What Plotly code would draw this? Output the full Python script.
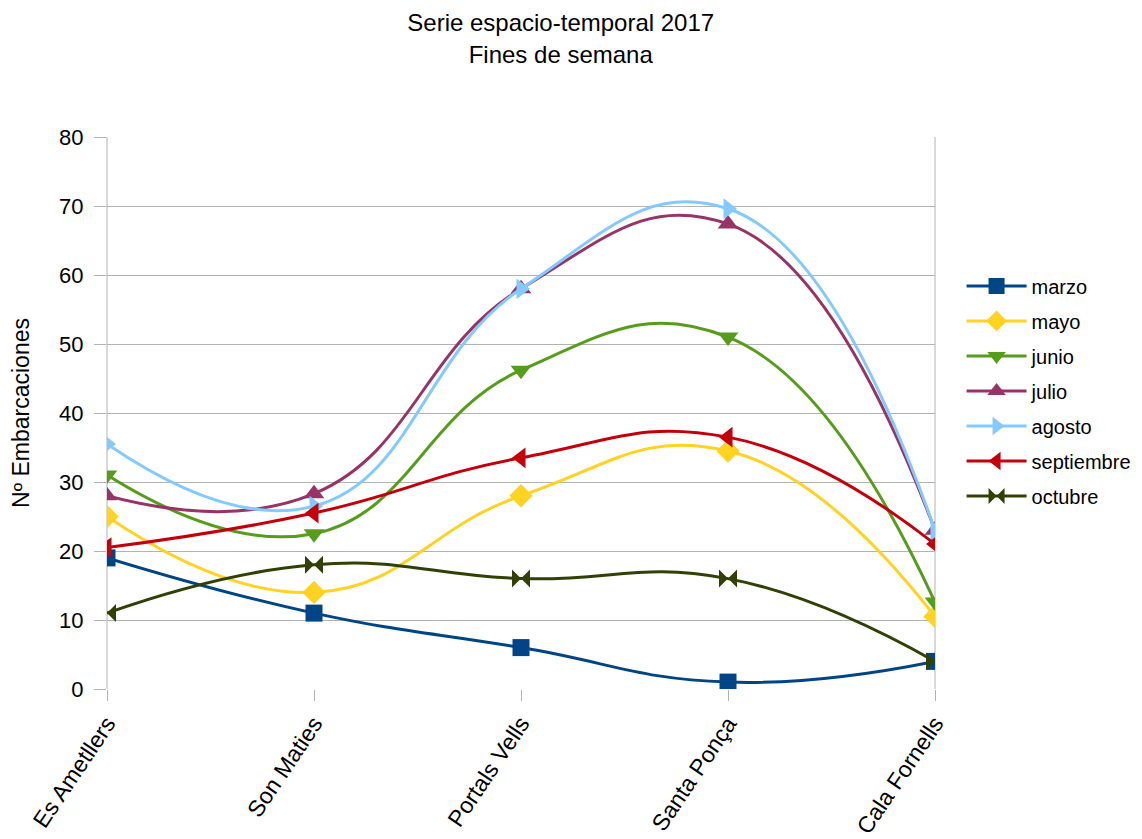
import plotly.graph_objects as go

categories = ["Es Ametllers", "Son Maties", "Portals Vells", "Santa Ponça", "Cala Fornells"]
marzo = [19, 11, 6, 1, 4]
mayo = [25, 14, 28, 34.5, 10.5]
junio = [31, 22.5, 46.2, 51, 12.6]
julio = [28, 28.3, 58, 67.4, 23]
agosto = [35.5, 26.5, 58, 69.6, 23]
septiembre = [20.5, 25.5, 33.5, 36.5, 21]
octubre = [11, 18, 16, 16, 4]

series = [
    ("marzo", marzo, "#004586", "square", 17),
    ("mayo", mayo, "#ffd320", "diamond", 18),
    ("junio", junio, "#579d1c", "triangle-down", 18),
    ("julio", julio, "#993366", "triangle-up", 18),
    ("agosto", agosto, "#83caff", "triangle-right", 18),
    ("septiembre", septiembre, "#c5000b", "triangle-left", 18),
    ("octubre", octubre, "#314004", "bowtie", 18),
]

fig = go.Figure()
for i, (name, vals, color, sym, msize) in enumerate(series):
    fig.add_trace(go.Scatter(
        x=categories, y=vals, name=name, mode="lines+markers",
        line=dict(color=color, width=3, shape="spline", smoothing=1.3),
        marker=dict(symbol=sym, size=msize, color=color),
        legendgroup=f"g{i}",
    ))

fig.update_layout(
    width=1142, height=839,
    paper_bgcolor="white", plot_bgcolor="white",
    font=dict(family="Liberation Sans, Arial, sans-serif", color="black", size=22),
    title=dict(text="Serie espacio-temporal 2017<br>Fines de semana", x=0.484, xanchor="center",
               y=0.972, yanchor="top", font=dict(size=24)),
    margin=dict(l=99, r=215, t=129, b=158),
    legend=dict(xref="container", yref="container", x=0.835, y=0.692,
                xanchor="left", yanchor="top", font=dict(size=20),
                tracegroupgap=6, itemwidth=60, bgcolor="rgba(0,0,0,0)"),
    showlegend=True,
)
fig.update_xaxes(
    type="category", range=[0, 4], tickangle=-56, automargin=False,
    showgrid=False, showline=False, ticks="outside", ticklen=11, tickcolor="#b3b3b3",
    tickfont=dict(size=23), zeroline=False,
)
fig.update_yaxes(
    range=[0, 80], dtick=10, showgrid=True, gridcolor="#b3b3b3", gridwidth=1,
    ticks="outside", ticklen=12, tickcolor="#b3b3b3", tickfont=dict(size=22),
    ticklabelstandoff=6, automargin=False,
    zeroline=False, showline=False,
    title=dict(text="Nº Embarcaciones", font=dict(size=23), standoff=28),
)
fig.add_shape(type="line", xref="paper", yref="paper", x0=0, x1=0, y0=0, y1=1,
              line=dict(color="#b3b3b3", width=1), layer="below")
fig.add_shape(type="line", xref="paper", yref="paper", x0=1, x1=1, y0=0, y1=1,
              line=dict(color="#b3b3b3", width=1), layer="below")

fig.write_html("out.html")
